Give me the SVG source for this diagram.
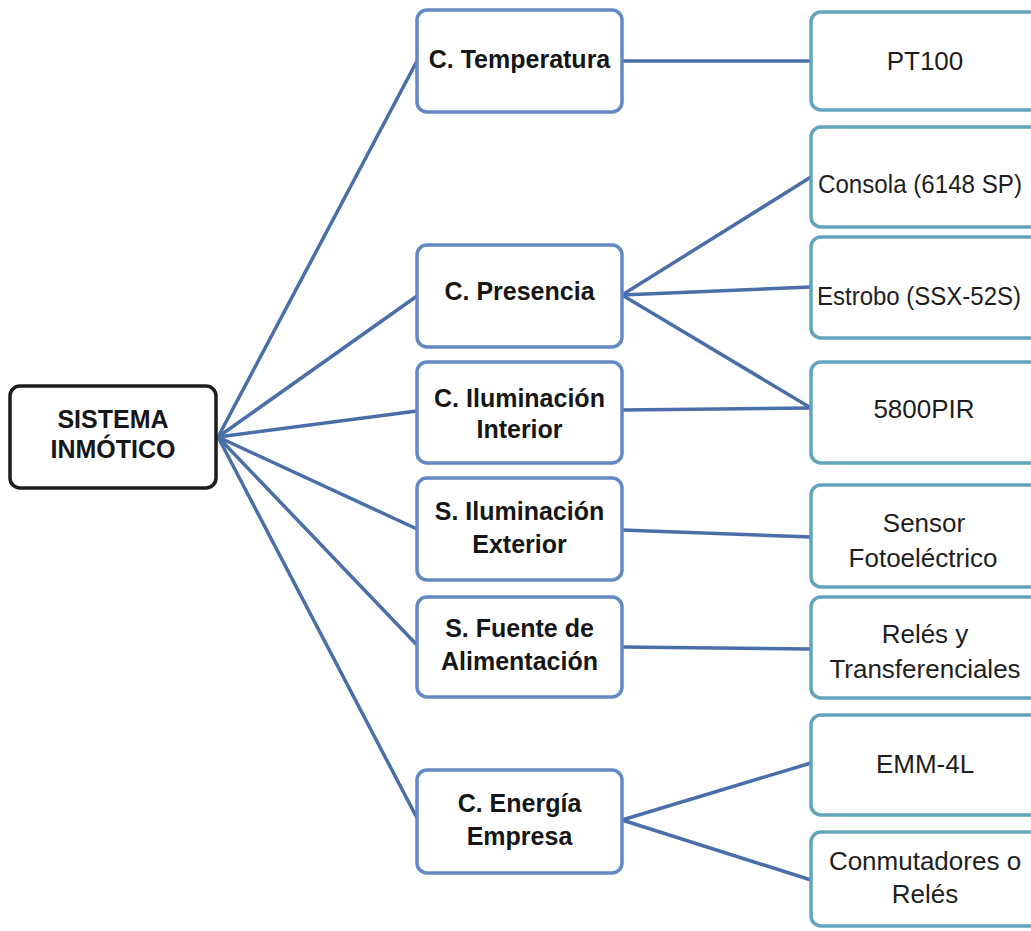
<svg xmlns="http://www.w3.org/2000/svg" width="1031" height="931" viewBox="0 0 1031 931">
  <style>
    .root { fill: #ffffff; stroke: #1c1c1c; stroke-width: 3.5; }
    .mid { fill: #ffffff; stroke: #6389c4; stroke-width: 3.5; }
    .leaf { fill: #ffffff; stroke: #63a4bd; stroke-width: 3.5; }
    .edge { stroke: #4a6fa8; stroke-width: 3.5; fill: none; stroke-linecap: round; }
    .b { font-family: "Liberation Sans", Arial, sans-serif; font-weight: bold; font-size: 25px; fill: #161616; text-anchor: middle; }
    .r { font-family: "Liberation Sans", Arial, sans-serif; font-size: 26px; fill: #1e1e1e; text-anchor: middle; }
    .rs { font-family: "Liberation Sans", Arial, sans-serif; font-size: 26px; fill: #1e1e1e; text-anchor: start; }
  </style>
  <rect width="1031" height="931" fill="#ffffff"/>

  <!-- connectors -->
  <g id="connectors">
    <line class="edge" x1="218" y1="437" x2="417" y2="61"/>
    <line class="edge" x1="218" y1="437" x2="417" y2="296"/>
    <line class="edge" x1="218" y1="437" x2="417" y2="411"/>
    <line class="edge" x1="218" y1="437" x2="417" y2="529"/>
    <line class="edge" x1="218" y1="437" x2="417" y2="645"/>
    <line class="edge" x1="218" y1="437" x2="417" y2="818"/>

    <line class="edge" x1="622" y1="61" x2="811" y2="61"/>
    <line class="edge" x1="622" y1="295" x2="811" y2="177"/>
    <line class="edge" x1="622" y1="295" x2="811" y2="287"/>
    <line class="edge" x1="622" y1="295" x2="811" y2="408"/>
    <line class="edge" x1="622" y1="410" x2="811" y2="408"/>
    <line class="edge" x1="622" y1="530" x2="811" y2="537"/>
    <line class="edge" x1="622" y1="647" x2="811" y2="649"/>
    <line class="edge" x1="622" y1="820" x2="811" y2="763"/>
    <line class="edge" x1="622" y1="820" x2="811" y2="880"/>
  </g>

  <!-- root -->
  <g id="sistema-inmotico">
    <rect class="root" x="10" y="386" width="206" height="102" rx="10"/>
    <text class="b" x="113" y="428">SISTEMA</text>
    <text class="b" x="113" y="458">INMÓTICO</text>
  </g>

  <!-- subsystems -->
  <g id="c-temperatura">
    <rect class="mid" x="417" y="10" width="205" height="102" rx="10"/>
    <text class="b" x="519.5" y="68">C. Temperatura</text>
  </g>
  <g id="c-presencia">
    <rect class="mid" x="417" y="245" width="205" height="102" rx="10"/>
    <text class="b" x="519.5" y="300">C. Presencia</text>
  </g>
  <g id="c-iluminacion-interior">
    <rect class="mid" x="417" y="362" width="205" height="101" rx="10"/>
    <text class="b" x="519.5" y="407">C. Iluminación</text>
    <text class="b" x="519.5" y="438">Interior</text>
  </g>
  <g id="s-iluminacion-exterior">
    <rect class="mid" x="417" y="478" width="205" height="102" rx="10"/>
    <text class="b" x="519.5" y="520">S. Iluminación</text>
    <text class="b" x="519.5" y="553">Exterior</text>
  </g>
  <g id="s-fuente-alimentacion">
    <rect class="mid" x="417" y="597" width="205" height="100" rx="10"/>
    <text class="b" x="519.5" y="637">S. Fuente de</text>
    <text class="b" x="519.5" y="670">Alimentación</text>
  </g>
  <g id="c-energia-empresa">
    <rect class="mid" x="417" y="770" width="205" height="103" rx="10"/>
    <text class="b" x="519.5" y="812">C. Energía</text>
    <text class="b" x="519.5" y="845">Empresa</text>
  </g>

  <!-- devices -->
  <g id="pt100">
    <rect class="leaf" x="811" y="12" width="240" height="98" rx="10"/>
    <text class="r" x="925" y="70">PT100</text>
  </g>
  <g id="consola">
    <rect class="leaf" x="811" y="127" width="240" height="100" rx="10"/>
    <text class="rs" x="818" y="193" textLength="204" lengthAdjust="spacingAndGlyphs">Consola (6148 SP)</text>
  </g>
  <g id="estrobo">
    <rect class="leaf" x="811" y="237" width="240" height="101" rx="10"/>
    <text class="rs" x="817" y="305" textLength="204" lengthAdjust="spacingAndGlyphs">Estrobo (SSX-52S)</text>
  </g>
  <g id="pir5800">
    <rect class="leaf" x="811" y="362" width="240" height="101" rx="10"/>
    <text class="r" x="924" y="418">5800PIR</text>
  </g>
  <g id="sensor-fotoelectrico">
    <rect class="leaf" x="811" y="485" width="240" height="102" rx="10"/>
    <text class="r" x="924" y="532">Sensor</text>
    <text class="r" x="923" y="567">Fotoeléctrico</text>
  </g>
  <g id="reles-transferenciales">
    <rect class="leaf" x="811" y="597" width="240" height="101" rx="10"/>
    <text class="r" x="925" y="643">Relés y</text>
    <text class="r" x="925" y="678">Transferenciales</text>
  </g>
  <g id="emm-4l">
    <rect class="leaf" x="811" y="715" width="240" height="100" rx="10"/>
    <text class="r" x="925" y="773">EMM-4L</text>
  </g>
  <g id="conmutadores">
    <rect class="leaf" x="811" y="832" width="240" height="94" rx="10"/>
    <text class="r" x="925" y="870">Conmutadores o</text>
    <text class="r" x="925" y="903">Relés</text>
  </g>
</svg>
